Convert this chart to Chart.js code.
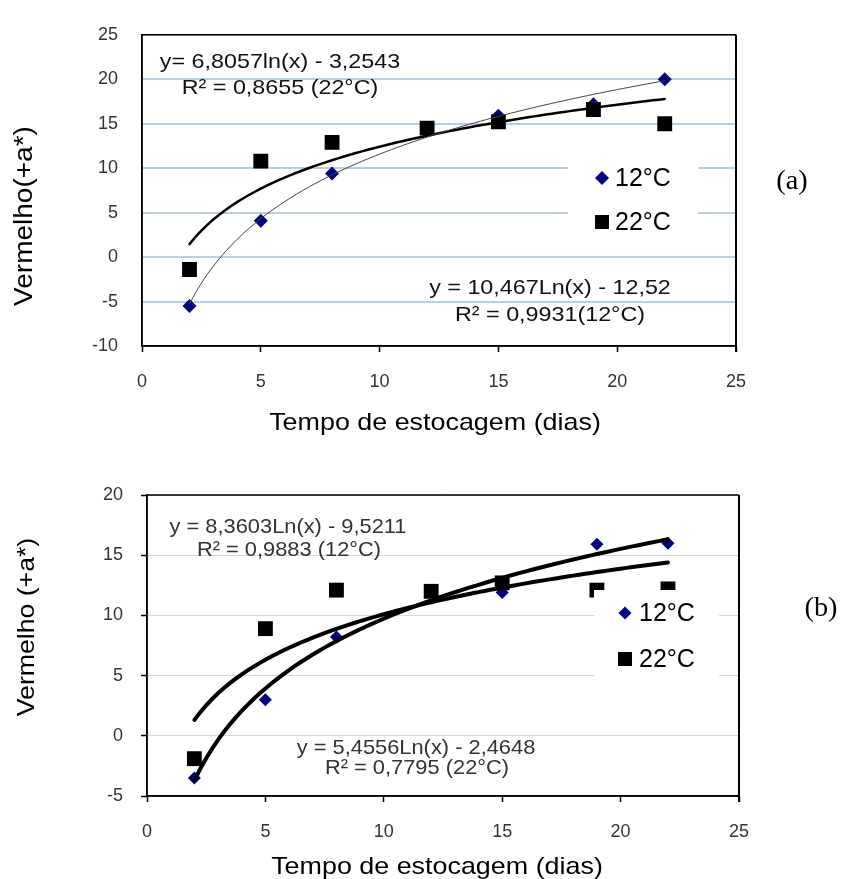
<!DOCTYPE html>
<html>
<head>
<meta charset="utf-8">
<script src="https://cdn.jsdelivr.net/npm/chart.js@4.4.1/dist/chart.umd.min.js"></script>
<style>
  body { margin: 0; background: #fff; }
  #wrap { position: relative; width: 842px; height: 879px; }
  canvas { position: absolute; left: 0; }
  #chartA { top: 0; }
  #chartB { top: 440px; }
</style>
</head>
<body>
<div id="wrap">
  <canvas id="chartA" width="842" height="440"></canvas>
  <canvas id="chartB" width="842" height="439"></canvas>
</div>
<script>
// storage time (days)
const days = [2, 5, 8, 12, 15, 19, 22];

// (a) red colour a*
const a12 = [-5.5, 4.1, 9.4, 14.5, 15.9, 17.2, 20.0];
const a22 = [-1.4, 10.8, 12.9, 14.5, 15.2, 16.6, 15.0];
// trendlines y = k*ln(x) + b, as printed on the chart
const aFit12 = [10.467, -12.52];
const aFit22 = [6.8057, -3.2543];

// (b)
const b12 = [-3.5, 3.0, 8.2, 12.0, 11.9, 15.9, 16.0];
const b22 = [-1.9, 8.9, 12.1, 12.0, 12.7, 12.1, 12.2];
const bFit12 = [8.3603, -9.5211];
const bFit22 = [5.4556, -2.4648];

// axis ranges / ticks
const xTicks = [0, 5, 10, 15, 20, 25];
const yTicksA = [-10, -5, 0, 5, 10, 15, 20, 25];
const yTicksB = [-5, 0, 5, 10, 15, 20];

const seriesNames = ['12°C', '22°C'];

const FONT = "'Liberation Sans', Arial, sans-serif";

function points(values) {
    return days.map((d, i) => ({ x: days[i], y: values[i] }));
}

// log trendline sampled between first and last day
function trend(coef) {
    const pts = [];
    for (let x = days[0]; x <= days[days.length - 1] + 0.001; x += 0.25) {
        pts.push({ x: x, y: coef[0] * Math.log(x) + coef[1] });
    }
    return pts;
}

// text helper, stretch widens the glyphs like the original picture
function txt(ctx, s, x, y, size, color, stretch, align, rot, family) {
    ctx.save();
    ctx.font = size + 'px ' + (family || FONT);
    ctx.fillStyle = color;
    ctx.textAlign = align || 'center';
    ctx.textBaseline = 'middle';
    ctx.translate(x, y);
    if (rot) ctx.rotate(rot);
    ctx.scale(stretch || 1, 1);
    ctx.fillText(s, 0, 0);
    ctx.restore();
}

function diamond(ctx, x, y, r) {
    ctx.beginPath();
    ctx.moveTo(x, y - r);
    ctx.lineTo(x + r, y);
    ctx.lineTo(x, y + r);
    ctx.lineTo(x - r, y);
    ctx.closePath();
    ctx.fillStyle = '#000080';
    ctx.fill();
}

function frame(ctx, area) {
    ctx.save();
    ctx.strokeStyle = '#000';
    ctx.lineWidth = 1.5;
    ctx.beginPath();
    ctx.moveTo(area.left, area.top);
    ctx.lineTo(area.right, area.top);
    ctx.moveTo(area.left, area.top);
    ctx.lineTo(area.left, area.bottom);
    ctx.lineTo(area.right, area.bottom);
    ctx.stroke();
    ctx.lineWidth = 2;
    ctx.beginPath();
    ctx.moveTo(area.right, area.top);
    ctx.lineTo(area.right, area.bottom + 6);
    ctx.stroke();
    ctx.restore();
}

function legendBox(ctx, box, mx, y1, y2, textX, r) {
    ctx.save();
    ctx.fillStyle = '#fff';
    ctx.fillRect(box[0], box[1], box[2], box[3]);
    diamond(ctx, mx, y1, r);
    ctx.fillStyle = '#000';
    ctx.fillRect(mx - 7, y2 - 7, 14, 14);
    ctx.restore();
    txt(ctx, seriesNames[0], textX, y1 + 1, 25, '#000', 1, 'left');
    txt(ctx, seriesNames[1], textX, y2 + 1, 25, '#000', 1, 'left');
}

const extrasA = {
    id: 'extrasA',
    afterDraw(chart) {
        const ctx = chart.ctx;
        legendBox(ctx, [568, 148, 130, 92], 602, 178, 222, 615, 7);
        txt(ctx, 'y= 6,8057ln(x) - 3,2543', 280, 62, 21, '#111', 1.11);
        txt(ctx, 'R² = 0,8655 (22°C)', 280, 88, 21, '#111', 1.11);
        txt(ctx, 'y = 10,467Ln(x) - 12,52', 550, 288, 21, '#111', 1.11);
        txt(ctx, 'R² = 0,9931(12°C)', 550, 315, 21, '#111', 1.11);
        txt(ctx, 'Tempo de estocagem (dias)', 435, 423, 24, '#000', 1.12);
        txt(ctx, 'Vermelho(+a*)', 25, 216, 25, '#000', 1.12, 'center', -Math.PI / 2);
        txt(ctx, '(a)', 792, 182, 27, '#000', 1.05, 'center', 0, "'Liberation Serif', 'Times New Roman', serif");
        frame(ctx, chart.chartArea);
    }
};

const extrasB = {
    id: 'extrasB',
    afterDraw(chart) {
        const ctx = chart.ctx;
        legendBox(ctx, [594, 150, 125, 110], 625, 173, 219, 639, 6.5);
        txt(ctx, 'y = 8,3603Ln(x) - 9,5211', 288, 87, 21, '#333', 1.04);
        txt(ctx, 'R² = 0,9883 (12°C)', 289, 110, 21, '#333', 1.04);
        txt(ctx, 'y = 5,4556Ln(x) - 2,4648', 416, 308, 21, '#333', 1.04);
        txt(ctx, 'R² = 0,7795 (22°C)', 417, 328, 21, '#333', 1.04);
        txt(ctx, 'Tempo de estocagem (dias)', 437, 427, 24, '#000', 1.12);
        txt(ctx, 'Vermelho (+a*)', 27, 187, 24, '#000', 1.11, 'center', -Math.PI / 2);
        txt(ctx, '(b)', 821, 169, 27, '#000', 1.05, 'center', 0, "'Liberation Serif', 'Times New Roman', serif");
        frame(ctx, chart.chartArea);
    }
};

function makeChart(canvas, cfg) {
    return new Chart(canvas.getContext('2d'), {
        type: 'scatter',
        data: {
            datasets: [
                {
                    label: 'fit 12',
                    data: trend(cfg.fit12),
                    showLine: true,
                    pointRadius: 0,
                    borderColor: cfg.fit12Color,
                    borderWidth: cfg.fit12Width,
                    borderCapStyle: 'round'
                },
                {
                    label: 'fit 22',
                    data: trend(cfg.fit22),
                    showLine: true,
                    pointRadius: 0,
                    borderColor: '#000',
                    borderWidth: cfg.fit22Width,
                    borderCapStyle: 'round'
                },
                {
                    label: seriesNames[1],
                    data: points(cfg.s22),
                    pointStyle: 'rect',
                    pointRadius: cfg.rectR,
                    backgroundColor: '#000',
                    borderColor: '#000',
                    borderWidth: 0
                },
                {
                    label: seriesNames[0],
                    data: points(cfg.s12),
                    pointStyle: 'rectRot',
                    pointRadius: cfg.diaR,
                    backgroundColor: '#000080',
                    borderColor: '#000080',
                    borderWidth: 0
                }
            ]
        },
        options: {
            responsive: false,
            animation: false,
            devicePixelRatio: 1,
            layout: { padding: { left: 0, top: cfg.top, right: cfg.right, bottom: 0 } },
            plugins: { legend: { display: false }, tooltip: { enabled: false } },
            scales: {
                x: {
                    type: 'linear',
                    min: xTicks[0],
                    max: xTicks[xTicks.length - 1],
                    afterBuildTicks: (s) => { s.ticks = xTicks.map(v => ({ value: v })); },
                    afterFit: (s) => { s.height = cfg.xH; },
                    grid: { drawOnChartArea: false, drawTicks: true, tickLength: 6, tickColor: '#000', tickWidth: 1.5 },
                    border: { color: '#000', width: 1.5 },
                    ticks: { padding: 19, color: '#333', font: { family: FONT, size: 18 } }
                },
                y: {
                    type: 'linear',
                    min: cfg.yTicks[0],
                    max: cfg.yTicks[cfg.yTicks.length - 1],
                    afterBuildTicks: (s) => { s.ticks = cfg.yTicks.map(v => ({ value: v })); },
                    afterFit: (s) => { s.width = cfg.yW; },
                    grid: {
                        color: cfg.gridColor,
                        lineWidth: cfg.gridWidth,
                        drawTicks: cfg.yTickMarks,
                        tickLength: 6,
                        tickColor: '#000',
                        tickWidth: 1.5
                    },
                    border: { color: '#000', width: 1.5 },
                    ticks: { padding: cfg.yTickMarks ? 18 : 24, color: '#333', font: { family: FONT, size: 18 } }
                }
            }
        },
        plugins: [cfg.extras]
    });
}

makeChart(document.querySelector('#chartA'), {
    s12: a12, s22: a22, fit12: aFit12, fit22: aFit22,
    fit12Color: '#444', fit12Width: 1, fit22Width: 2.5,
    rectR: 10.5, diaR: 7,
    yTicks: yTicksA, top: 25, right: 106, xH: 94, yW: 142,
    gridColor: '#b9cde5', gridWidth: 2, yTickMarks: false,
    extras: extrasA
});

makeChart(document.querySelector('#chartB'), {
    s12: b12, s22: b22, fit12: bFit12, fit22: bFit22,
    fit12Color: '#000', fit12Width: 4, fit22Width: 4,
    rectR: 10.5, diaR: 6.5,
    yTicks: yTicksB, top: 55, right: 103, xH: 83, yW: 147,
    gridColor: '#c6d9f1', gridWidth: 1, yTickMarks: true,
    extras: extrasB
});
</script>
</body>
</html>
